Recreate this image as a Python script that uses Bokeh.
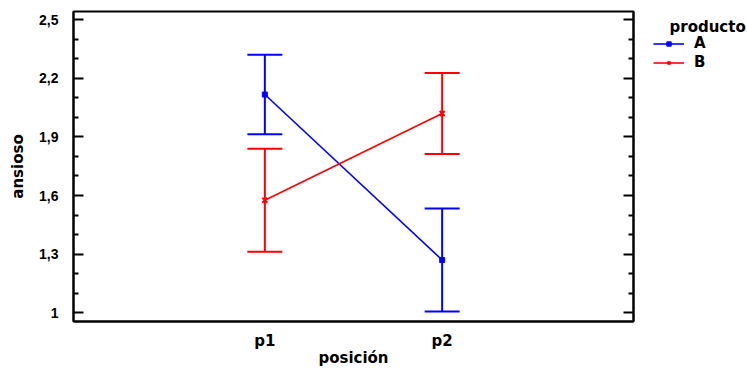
from bokeh.plotting import figure
from bokeh.layouts import row
from bokeh.models import (ColumnDataSource, Whisker, TeeHead, FixedTicker, LinearAxis,
                          Range1d, Legend, LegendItem, Label)
from bokeh.embed import file_html
from bokeh.resources import INLINE

# ---- data ----
categories = ["p1", "p2"]
A_mean = [2.117, 1.270]
A_half = [0.203, 0.264]
B_mean = [1.576, 2.020]
B_half = [0.264, 0.207]
y_ticks = [1.0, 1.3, 1.6, 1.9, 2.2, 2.5]
y_tick_labels = ["1", "1,3", "1,6", "1,9", "2,2", "2,5"]
y_minor = [1.1, 1.2, 1.4, 1.5, 1.7, 1.8, 2.0, 2.1, 2.3, 2.4]
series_names = ["A", "B"]
legend_title = "producto"

xpos = [i + 1 for i in range(len(categories))]

def src(mean, half):
    return ColumnDataSource(dict(
        x=xpos, y=mean,
        lo=[m - h for m, h in zip(mean, half)],
        hi=[m + h for m, h in zip(mean, half)]))

srcA = src(A_mean, A_half)
srcB = src(B_mean, B_half)

BLUE = "#0000FF"
RED = "#FF0000"
TXT = "DejaVu Sans"
NUM = "Liberation Sans"

p = figure(width=640, height=369, output_backend="svg", toolbar_location=None,
           x_range=Range1d(-0.079, 3.079), y_range=Range1d(0.955, 2.542),
           min_border_left=73, min_border_right=7, min_border_top=11,
           min_border_bottom=48)
p.xgrid.visible = False
p.ygrid.visible = False
p.outline_line_color = "black"
p.outline_line_width = 2
p.background_fill_color = "white"
p.border_fill_color = "white"

# x axis
xa = p.xaxis[0]
xa.ticker = FixedTicker(ticks=xpos)
xa.major_label_overrides = {x: c for x, c in zip(xpos, categories)}
xa.major_tick_line_color = None
xa.minor_tick_line_color = None
xa.major_tick_in = 0
xa.major_tick_out = 0
xa.axis_line_width = 2
xa.axis_label = "posición"
xa.axis_label_text_font = TXT
xa.axis_label_text_font_style = "bold"
xa.axis_label_text_font_size = "15px"
xa.axis_label_text_color = "black"
xa.axis_label_standoff = -4
xa.major_label_text_font = TXT
xa.major_label_text_font_style = "bold"
xa.major_label_text_font_size = "15px"
xa.major_label_text_color = "black"
xa.major_label_standoff = 10

# y axis
ya = p.yaxis[0]
ya.ticker = FixedTicker(ticks=y_ticks, minor_ticks=y_minor)
ya.major_label_overrides = {t: l for t, l in zip(y_ticks, y_tick_labels)}
ya.major_tick_in = 10
ya.major_tick_out = 0
ya.minor_tick_in = 5
ya.minor_tick_out = 0
ya.major_tick_line_width = 2
ya.minor_tick_line_width = 2
ya.axis_line_width = 2
ya.axis_label = "ansioso"
ya.axis_label_text_font = TXT
ya.axis_label_text_font_style = "bold"
ya.axis_label_text_font_size = "15px"
ya.axis_label_text_color = "black"
ya.axis_label_standoff = 9
ya.major_label_text_font = NUM
ya.major_label_text_font_style = "bold"
ya.major_label_text_font_size = "14px"
ya.major_label_text_color = "black"
ya.major_label_standoff = 15

# right axis with inward ticks
ra = LinearAxis(ticker=FixedTicker(ticks=y_ticks, minor_ticks=y_minor),
                major_label_text_font_size="0px", major_label_text_color=None)
ra.major_tick_in = 10
ra.major_tick_out = 0
ra.minor_tick_in = 5
ra.minor_tick_out = 0
ra.major_tick_line_width = 2
ra.minor_tick_line_width = 2
ra.axis_line_width = 2
ra.major_label_standoff = 0
p.add_layout(ra, "right")

# error bars
for s, c in ((srcA, BLUE), (srcB, RED)):
    w = Whisker(source=s, base="x", lower="lo", upper="hi", line_color=c, line_width=2,
                lower_head=TeeHead(size=35, line_color=c, line_width=2),
                upper_head=TeeHead(size=35, line_color=c, line_width=2))
    p.add_layout(w)

p.line("x", "y", source=srcA, line_color=BLUE, line_width=1.6)
p.scatter("x", "y", source=srcA, marker="square", size=5, color=BLUE)
p.line("x", "y", source=srcB, line_color=RED, line_width=1.6)
p.scatter("x", "y", source=srcB, marker="x", size=7, line_color=RED, line_width=2)

# ---- legend panel (frame aligned with the main plot: y 11..321) ----
# its ranges lie away from the data, so only the legend swatches show
lg = figure(width=107, height=369, output_backend="svg", toolbar_location=None,
            x_axis_type=None, y_axis_type=None, min_border=0,
            x_range=Range1d(100, 101), y_range=Range1d(100, 101))
lg.xgrid.visible = False
lg.ygrid.visible = False
lg.outline_line_color = None
lg.background_fill_color = "white"
lg.border_fill_color = "white"

kA = lg.line("x", "y", source=srcA, line_color=BLUE, line_width=1.6)
kAm = lg.scatter("x", "y", source=srcA, marker="square", size=5, color=BLUE)
kB = lg.line("x", "y", source=srcB, line_color=RED, line_width=1.6)
kBm = lg.scatter("x", "y", source=srcB, marker="x", size=7, line_color=RED, line_width=2)

legend = Legend(items=[LegendItem(label=series_names[0], renderers=[kA, kAm]),
                       LegendItem(label=series_names[1], renderers=[kB, kBm])],
                location=(13, 250))
legend.label_text_font = TXT
legend.label_text_font_style = "bold"
legend.label_text_font_size = "15px"
legend.label_text_color = "black"
legend.glyph_width = 31
legend.glyph_height = 11
legend.label_height = 18
legend.label_standoff = 10
legend.spacing = 1
legend.padding = 0
legend.margin = 0
legend.border_line_color = None
legend.background_fill_alpha = 0
lg.add_layout(legend)

lg.add_layout(Label(x=29, y=295, x_units="screen", y_units="screen", text=legend_title,
                    text_font=TXT, text_font_style="bold", text_font_size="15px",
                    text_color="black", text_baseline="alphabetic"))

layout = row(p, lg, spacing=0)
open("out.html", "w").write(file_html(layout, INLINE))
